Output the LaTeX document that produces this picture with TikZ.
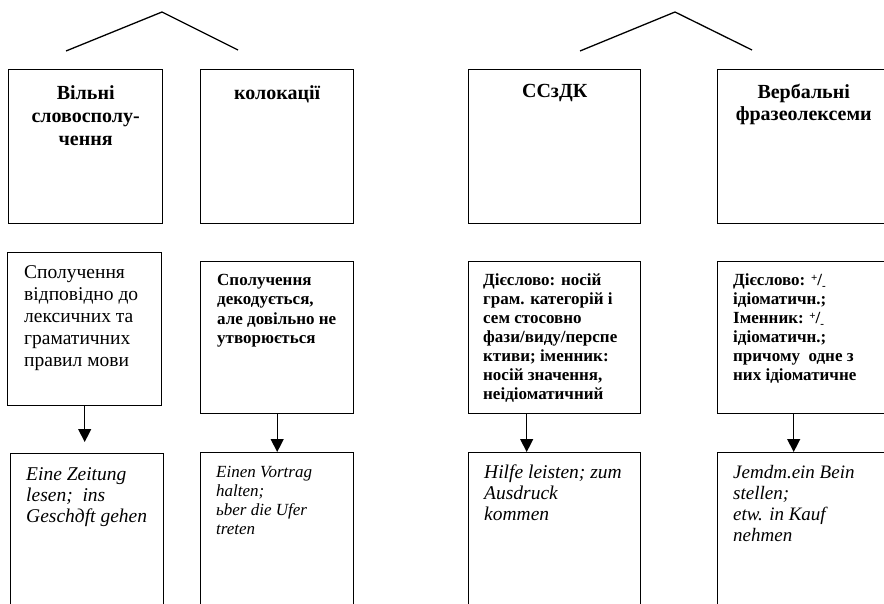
\documentclass[tikz,border=0pt]{standalone}
\usepackage{fontspec}
\setmainfont{Liberation Serif}
\usetikzlibrary{arrows.meta}

\begin{document}
\begin{tikzpicture}[x=1pt,y=-1pt,
  box/.style={draw,line width=1.4pt,anchor=north west,inner sep=0pt},
  head/.style={anchor=north,align=center,inner sep=0pt,font=\bfseries\fontsize{20}{23}\selectfont},
  txt/.style={anchor=north west,align=left,inner sep=0pt},
  roof/.style={line width=1.3pt},
  down/.style={line width=1.3pt,-{Triangle[length=13pt,width=13pt]}}]
\clip (0,0) rectangle (884,604);
\coordinate (l0) at (66,51);
\coordinate (l1) at (162,12);
\coordinate (l2) at (238,50);
\coordinate (r0) at (580,51);
\coordinate (r1) at (675,12);
\coordinate (r2) at (752,50);
\draw[roof] (l0) -- (l1) -- (l2);
\draw[roof] (r0) -- (r1) -- (r2);

\node[box,minimum width=154pt,minimum height=154pt] (a1) at (8,69) {};
\node[box,minimum width=153pt,minimum height=154pt] (a2) at (200,69) {};
\node[box,minimum width=172pt,minimum height=154pt] (a3) at (468,69) {};
\node[box,minimum width=172pt,minimum height=154pt] (a4) at (717,69) {};
\node[head] (h1) at ([yshift=-16pt]a1.north) {Вільні\\словосполу-\\чення};
\node[head] (h2) at ([yshift=-16pt]a2.north) {колокації};
\node[head] (h3) at ([yshift=-15pt]a3.north) {ССзДК};
\node[head,font=\bfseries\fontsize{20}{22}\selectfont] (h4) at ([yshift=-15pt]a4.north) {Вербальні\\фразеолексеми};

\node[box,minimum width=154pt,minimum height=153pt] (m1) at (7,252) {};
\node[box,minimum width=153pt,minimum height=152pt] (m2) at (200,261) {};
\node[box,minimum width=172pt,minimum height=152pt] (m3) at (468,261) {};
\node[box,minimum width=172pt,minimum height=152pt] (m4) at (717,261) {};
\node[txt,font=\fontsize{19.5}{22}\selectfont] (mt1) at ([shift={(17pt,-13pt)}]m1.north west)
  {Сполучення\\відповідно до\\лексичних та\\граматичних\\правил мови};
\node[txt,font=\bfseries\fontsize{17}{19.5}\selectfont] (mt2) at ([shift={(17pt,-13pt)}]m2.north west)
  {Сполучення\\декодується,\\але довільно не\\утворюється};
\node[txt,font=\bfseries\fontsize{17}{19}\selectfont] (mt3) at ([shift={(15pt,-13pt)}]m3.north west)
  {Дієслово: носій\\грам. категорій і\\сем стосовно\\фази/виду/перспе\\ктиви; іменник:\\носій значення,\\неідіоматичний};
\node[txt,font=\bfseries\fontsize{17}{19}\selectfont] (mt4) at ([shift={(16pt,-13pt)}]m4.north west)
  {Дієслово: \raisebox{0.25em}{\fontsize{11}{11}\selectfont +}/\raisebox{-0.2em}{\fontsize{11}{11}\selectfont -}\\ідіоматичн.;\\Іменник: \raisebox{0.25em}{\fontsize{11}{11}\selectfont +}/\raisebox{-0.2em}{\fontsize{11}{11}\selectfont -}\\ідіоматичн.;\\причому\ \ одне з\\них ідіоматичне};

\node[box,minimum width=153pt,minimum height=170pt] (b1) at (10,453) {};
\node[box,minimum width=153pt,minimum height=170pt] (b2) at (200,452) {};
\node[box,minimum width=172pt,minimum height=170pt] (b3) at (468,452) {};
\node[box,minimum width=172pt,minimum height=170pt] (b4) at (717,452) {};
\node[txt,font=\itshape\fontsize{19.5}{21}\selectfont] (bt1) at ([shift={(16pt,-14pt)}]b1.north west)
  {Eine Zeitung\\lesen; \ ins\\Geschдft gehen};
\node[txt,font=\itshape\fontsize{17}{19}\selectfont] (bt2) at ([shift={(16pt,-14pt)}]b2.north west)
  {Einen Vortrag\\halten;\\ьber die Ufer\\treten};
\node[txt,font=\itshape\fontsize{19.5}{21}\selectfont] (bt3) at ([shift={(16pt,-12.5pt)}]b3.north west)
  {Hilfe leisten; zum\\Ausdruck\\kommen};
\node[txt,font=\itshape\fontsize{19}{21}\selectfont] (bt4) at ([shift={(16pt,-13pt)}]b4.north west)
  {Jemdm.ein Bein\\stellen;\\etw. in Kauf\\nehmen};

\draw[down] (m1.south) -- ([yshift=11pt]m1.south |- b1.north);
\draw[down] (m2.south) -- (m2.south |- b2.north);
\draw[down] ([xshift=-28pt]m3.south) -- ([xshift=-28pt]m3.south |- b3.north);
\draw[down] ([xshift=-10pt]m4.south) -- ([xshift=-10pt]m4.south |- b4.north);
\end{tikzpicture}
\end{document}
